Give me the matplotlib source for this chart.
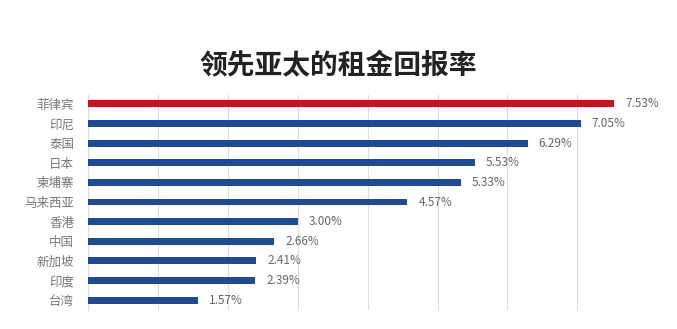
import matplotlib.pyplot as plt
import numpy as np

plt.rcParams['font.family'] = ['Noto Sans CJK SC', 'DejaVu Sans']

countries = ['菲律宾', '印尼', '泰国', '日本', '柬埔寨', '马来西亚',
             '香港', '中国', '新加坡', '印度', '台湾']
yields = [7.53, 7.05, 6.29, 5.53, 5.33, 4.57, 3.00, 2.66, 2.41, 2.39, 1.57]
title = '领先亚太的租金回报率'


def main():
    fig = plt.figure(figsize=(6.77, 3.29), dpi=100)
    ax = fig.add_axes([0.13, 0.058, 0.826, 0.653])

    y = np.arange(len(countries))
    colors = ['#c0171f'] + ['#1f4b93'] * (len(countries) - 1)
    ax.barh(y, yields, height=0.35, color=colors, zorder=3)

    for yi, v in zip(y, yields):
        ax.annotate('%.2f%%' % v, (v, yi), xytext=(8, 0),
                    textcoords='offset points', va='center', ha='left',
                    fontsize=8.5, color='#666666')

    ax.set_xlim(0, 8)
    ax.set_ylim(10.5, -0.45)
    ax.set_yticks(y)
    ax.set_yticklabels(countries, fontsize=9, color='#777777')
    ax.set_xticks(np.arange(0, 9, 1))
    ax.tick_params(axis='x', labelbottom=False, length=0)
    ax.tick_params(axis='y', length=0, pad=10)
    ax.grid(axis='x', color='#dddddd', linewidth=0.8, zorder=0)
    for s in ['top', 'right', 'bottom']:
        ax.spines[s].set_visible(False)
    ax.spines['left'].set_color('#dddddd')
    ax.spines['left'].set_linewidth(0.8)

    fig.text(0.5, 0.8, title, ha='center', va='center', fontsize=20,
             fontweight='bold', color='#222222')

    plt.savefig('out.png', dpi=100)
    plt.close()


if __name__ == "__main__":
    main()
